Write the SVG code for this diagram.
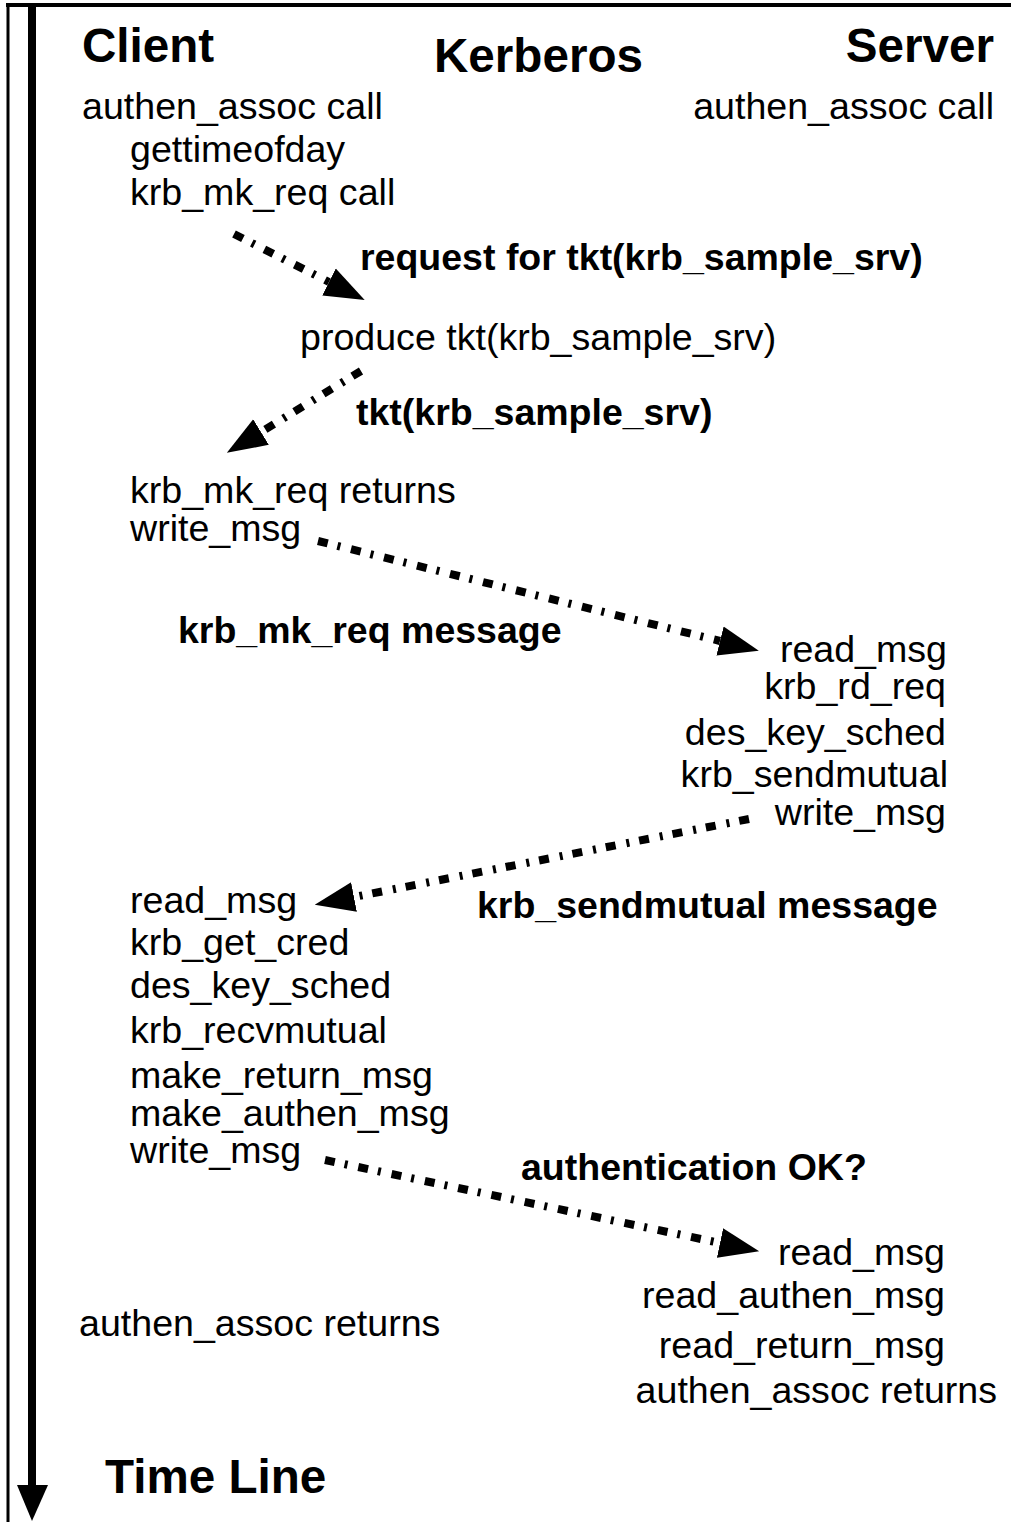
<svg xmlns="http://www.w3.org/2000/svg" width="1011" height="1522" viewBox="0 0 1011 1522">
  <style>
    text { font-family: "Liberation Sans", Arial, Helvetica, sans-serif; fill: #000; }
    .hd { font-size: 47.6px; font-weight: bold; }
    .t { font-size: 37.6px; }
    .lb { font-size: 37.5px; font-weight: bold; }
    .r { text-anchor: end; }
    .msg { fill: none; stroke: #000; stroke-width: 8; stroke-dasharray: 10 10 3 11; }
    .frame { stroke: #000; fill: none; }
  </style>
  <defs>
    <marker id="head" markerUnits="userSpaceOnUse" markerWidth="42" markerHeight="32" refX="0" refY="15" orient="auto" viewBox="0 0 42 30">
      <path d="M0,0 L40,15 L0,30 z" fill="#000"/>
    </marker>
  </defs>

  <!-- frame and time line -->
  <g id="frame">
    <line class="frame" x1="6" y1="5" x2="1011" y2="5" stroke-width="4"/>
    <line class="frame" x1="8" y1="4" x2="8" y2="1522" stroke-width="3"/>
    <line class="frame" x1="32" y1="5" x2="32" y2="1488" stroke-width="8"/>
    <polygon points="17,1485 48,1485 32,1521" fill="#000"/>
  </g>

  <!-- column headings -->
  <g id="headings">
    <text class="hd" x="82" y="62">Client</text>
    <text class="hd" x="434" y="72">Kerberos</text>
    <text class="hd r" x="994" y="62">Server</text>
  </g>

  <!-- client side steps -->
  <g id="client-init">
    <text class="t" x="82" y="119">authen_assoc call</text>
    <text class="t" x="130" y="162">gettimeofday</text>
    <text class="t" x="130" y="205">krb_mk_req call</text>
  </g>
  <g id="server-init">
    <text class="t r" x="994" y="119">authen_assoc call</text>
  </g>
  <g id="kerberos">
    <text class="t" x="300" y="350">produce tkt(krb_sample_srv)</text>
  </g>
  <g id="client-send">
    <text class="t" x="130" y="503">krb_mk_req returns</text>
    <text class="t" x="130" y="541">write_msg</text>
  </g>
  <g id="server-reply">
    <text class="t r" x="947" y="662">read_msg</text>
    <text class="t r" x="946" y="699">krb_rd_req</text>
    <text class="t r" x="946" y="745">des_key_sched</text>
    <text class="t r" x="948" y="787">krb_sendmutual</text>
    <text class="t r" x="946" y="825">write_msg</text>
  </g>
  <g id="client-auth">
    <text class="t" x="130" y="913">read_msg</text>
    <text class="t" x="130" y="955">krb_get_cred</text>
    <text class="t" x="130" y="998">des_key_sched</text>
    <text class="t" x="130" y="1043">krb_recvmutual</text>
    <text class="t" x="130" y="1088">make_return_msg</text>
    <text class="t" x="130" y="1126">make_authen_msg</text>
    <text class="t" x="130" y="1163">write_msg</text>
  </g>
  <g id="client-done">
    <text class="t" x="79" y="1336">authen_assoc returns</text>
  </g>
  <g id="server-done">
    <text class="t r" x="945" y="1265">read_msg</text>
    <text class="t r" x="945" y="1308">read_authen_msg</text>
    <text class="t r" x="945" y="1358">read_return_msg</text>
    <text class="t r" x="997" y="1403">authen_assoc returns</text>
  </g>
  <g id="timeline-label">
    <text class="hd" x="105" y="1493">Time Line</text>
  </g>

  <!-- messages -->
  <g id="connectors">
    <path class="msg" d="M234,234 L329,282" marker-end="url(#head)"/>
    <path class="msg" d="M361,371 L261,432" marker-end="url(#head)"/>
    <path class="msg" d="M318,541 L720,641" marker-end="url(#head)"/>
    <path class="msg" d="M749,819 L354,897" marker-end="url(#head)"/>
    <path class="msg" d="M325,1160 L720,1243" marker-end="url(#head)"/>
  </g>

  <!-- message labels -->
  <g id="labels">
    <text class="lb" x="360" y="270">request for tkt(krb_sample_srv)</text>
    <text class="lb" x="356" y="425">tkt(krb_sample_srv)</text>
    <text class="lb" x="178" y="643">krb_mk_req message</text>
    <text class="lb" x="477" y="918">krb_sendmutual message</text>
    <text class="lb" x="521" y="1180">authentication OK?</text>
  </g>
</svg>
